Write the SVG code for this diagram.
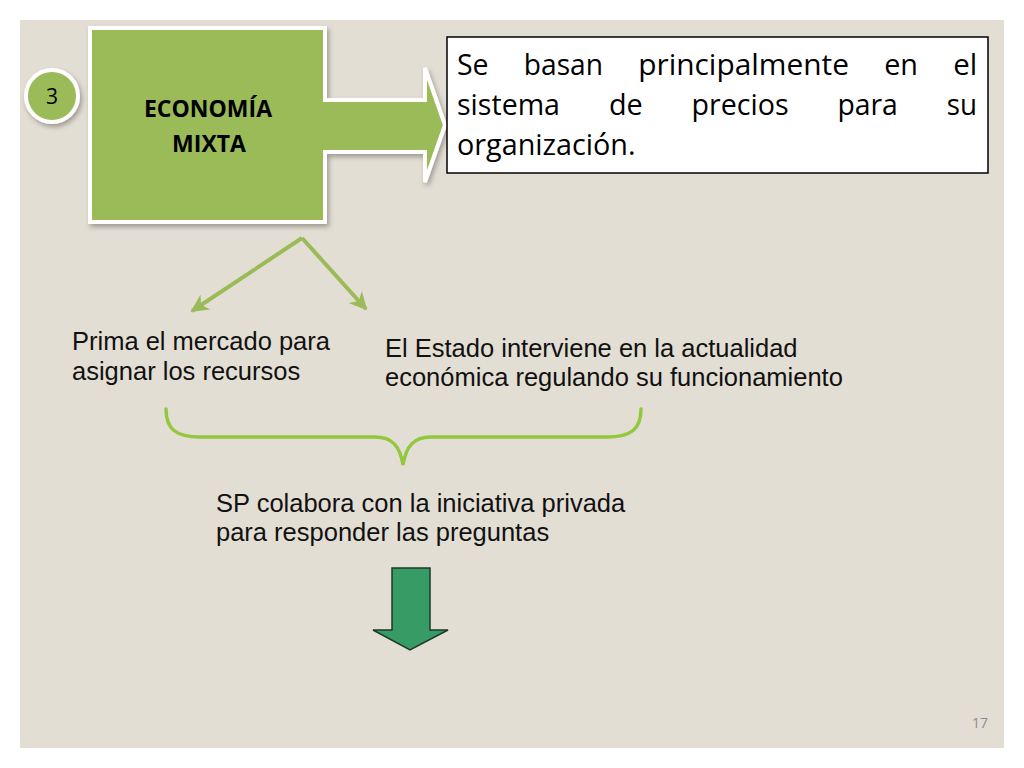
<svg xmlns="http://www.w3.org/2000/svg" width="1024" height="768" viewBox="0 0 1024 768">
<defs>
<style>
.body{font-family:"Liberation Sans",Arial,sans-serif;font-size:25.5px;fill:#111}
.box{font-family:"Open Sans","Liberation Sans",sans-serif;font-size:30px;fill:#000}
.title{font-family:"Open Sans","Liberation Sans",sans-serif;font-size:23px;font-weight:bold;fill:#000}
.conn{fill:none;stroke:#9BBB59;stroke-width:4}
</style>
<filter id="sh" x="-10%" y="-10%" width="130%" height="130%">
<feDropShadow dx="2" dy="3" stdDeviation="2.5" flood-color="#000" flood-opacity="0.3"/>
</filter>
<marker id="ah" viewBox="0 0 10 10" refX="9" refY="5" markerWidth="4.5" markerHeight="4.5" orient="auto" markerUnits="strokeWidth">
<path d="M0,0 L10,5 L0,10 L3,5 Z" fill="#9BBB59"/>
</marker>
</defs>
<rect x="0" y="0" width="1024" height="768" fill="#FFFFFF"/>
<rect x="20" y="20" width="984" height="728" fill="#E3DED4"/>

<g id="node-circle">
<circle cx="52" cy="96" r="26" fill="#9BBB59" stroke="#FFFFFF" stroke-width="4" filter="url(#sh)"/>
<text x="52" y="104" text-anchor="middle" style="font-family:'Open Sans','Liberation Sans',sans-serif;font-size:21px;fill:#000">3</text>
</g>

<g id="node-economia">
<path d="M90,28 H325 V100 H425 V68 L445,125 L425,182 V152 H325 V222 H90 Z" fill="#9BBB59" stroke="#FFFFFF" stroke-width="4" stroke-linejoin="miter" filter="url(#sh)"/>
<text class="title" x="208" y="117" text-anchor="middle">ECONOMÍA</text>
<text class="title" x="209" y="152" text-anchor="middle">MIXTA</text>
</g>

<g id="node-textbox">
<rect x="447" y="37" width="541" height="136" fill="#FFFFFF" stroke="#000000" stroke-width="1.5"/>
<text class="box" x="457" y="75" textLength="31.6" lengthAdjust="spacingAndGlyphs">Se</text>
<text class="box" x="523.8" y="75" textLength="79.2" lengthAdjust="spacingAndGlyphs">basan</text>
<text class="box" x="638.2" y="75" textLength="210.8" lengthAdjust="spacingAndGlyphs">principalmente</text>
<text class="box" x="884.2" y="75" textLength="33.8" lengthAdjust="spacingAndGlyphs">en</text>
<text class="box" x="953.2" y="75" textLength="24" lengthAdjust="spacingAndGlyphs">el</text>
<text class="box" x="457" y="115" textLength="103" lengthAdjust="spacingAndGlyphs">sistema</text>
<text class="box" x="608.9" y="115" textLength="33.8" lengthAdjust="spacingAndGlyphs">de</text>
<text class="box" x="691.5" y="115" textLength="97.1" lengthAdjust="spacingAndGlyphs">precios</text>
<text class="box" x="837.4" y="115" textLength="60.5" lengthAdjust="spacingAndGlyphs">para</text>
<text class="box" x="946.7" y="115" textLength="30.2" lengthAdjust="spacingAndGlyphs">su</text>
<text class="box" x="457" y="155" textLength="178.5" lengthAdjust="spacingAndGlyphs">organización.</text>
</g>

<g id="node-prima">
<text class="body" x="72" y="350">Prima el mercado para</text>
<text class="body" x="72" y="380">asignar los recursos</text>
</g>

<g id="node-estado">
<text class="body" x="385" y="357">El Estado interviene en la actualidad</text>
<text class="body" x="385" y="386">económica regulando su funcionamiento</text>
</g>

<g id="node-sp">
<text class="body" x="216" y="512">SP colabora con la iniciativa privada</text>
<text class="body" x="216" y="541">para responder las preguntas</text>
</g>

<g id="node-down-arrow">
<path d="M392,568 H430 V630 H448 L410,650 L373,630 H392 Z" fill="#379B66" stroke="#1E3A28" stroke-width="1.5"/>
</g>

<g id="connectors">
<line class="conn" x1="302" y1="238" x2="192" y2="311" marker-end="url(#ah)"/>
<line class="conn" x1="302" y1="238" x2="366" y2="309" marker-end="url(#ah)"/>
<path d="M166,409 C166,429 176,437 200,437 H375 C392,437 400,446 403,465 C406,446 414,437 431,437 H607 C631,437 641,429 641,409" fill="none" stroke="#92C83E" stroke-width="3.5" stroke-linecap="round"/>
</g>

<text x="988" y="728" text-anchor="end" style="font-family:'Open Sans','Liberation Sans',sans-serif;font-size:14px;fill:#8C8C8C">17</text>
</svg>
